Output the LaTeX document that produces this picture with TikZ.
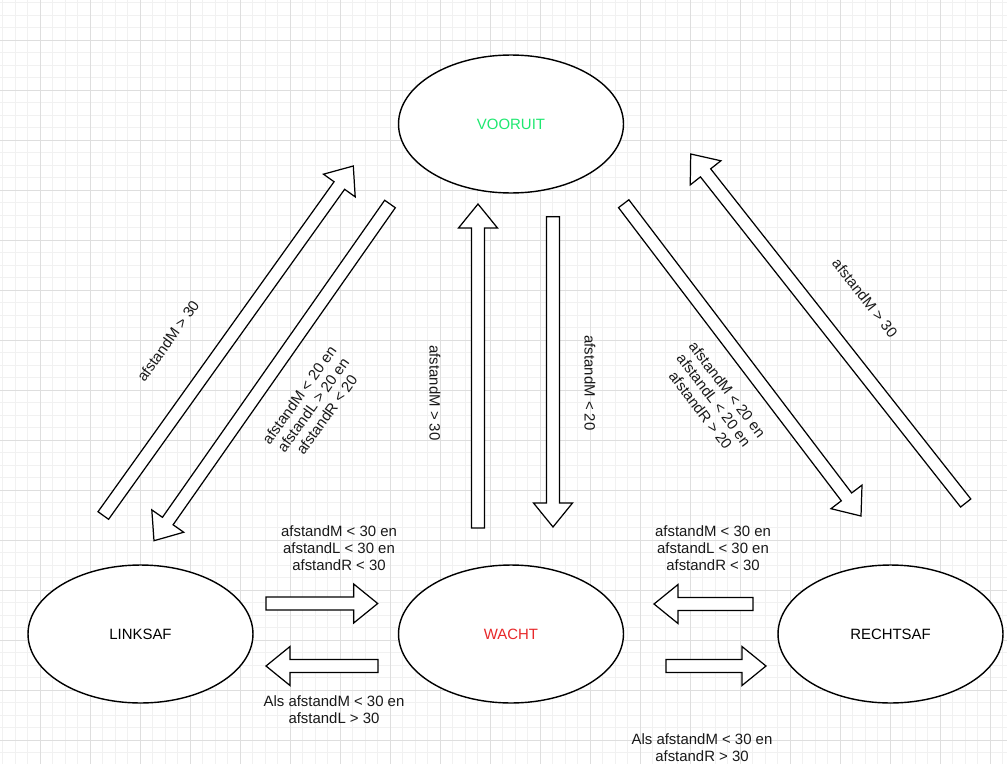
\documentclass[tikz,border=0pt]{standalone}
\usepackage{fontspec}
\setmainfont{Liberation Sans}
\usepackage{tikz}
\usetikzlibrary{calc, shapes.geometric}
\usepackage{xcolor}

\definecolor{gridmin}{HTML}{F1F1F1}
\definecolor{gridmaj}{HTML}{DEDEDE}
\definecolor{vgreen}{HTML}{1EE870}
\definecolor{wred}{HTML}{E8282A}

\tikzset{
  state/.style={ellipse, draw=black, line width=0.8pt, fill=white,
    minimum width=4.5cm, minimum height=2.76cm, inner sep=0pt,
    font=\fontsize{8.5}{9.6}\selectfont},
  blockarr/.style={draw=black, line width=0.7pt, fill=white, line join=miter},
  cond/.style={font=\fontsize{8.5}{9.6}\selectfont, align=center,
    text=black!90, inner sep=0pt},
}

% block arrow from tail #1 to tip #2 (shaft 13px, head 39px x 24px)
\newcommand{\blockarrow}[2]{%
  \coordinate (#1hb) at ($(#2)!0.48cm!(#1)$);
  \draw[blockarr]
    ($(#1)!0.13cm!90:(#2)$) -- ($(#1hb)!0.13cm!90:(#2)$) --
    ($(#1hb)!0.39cm!90:(#2)$) -- (#2) --
    ($(#1hb)!0.39cm!-90:(#2)$) -- ($(#1hb)!0.13cm!-90:(#2)$) --
    ($(#1)!0.13cm!-90:(#2)$) -- cycle;
}

\begin{document}
\begin{tikzpicture}[x=0.02cm,y=-0.02cm]

% ------------------------------------------------------------
% Canvas and background grid (1 unit = 1 px)
% ------------------------------------------------------------
\fill[white] (0,0) rectangle (1007,764);
\useasboundingbox (0,0) rectangle (1007,764);
\foreach \k in {0,...,80} {
  \draw[gridmin, line width=0.5pt] ({2.5+12.5*\k},0) -- ++(0,764);
}
\foreach \k in {0,...,61} {
  \draw[gridmin, line width=0.5pt] (0,{2.5+12.5*\k}) -- ++(1007,0);
}
\foreach \k in {0,...,19} {
  \draw[gridmaj, line width=0.5pt] ({40+50*\k},0) -- ++(0,764);
}
\foreach \k in {0,...,14} {
  \draw[gridmaj, line width=0.5pt] (0,{40+50*\k}) -- ++(1007,0);
}

% ------------------------------------------------------------
% Block arrows: tail and tip coordinates
% ------------------------------------------------------------
\coordinate (lv0) at (103.3,515.5);  \coordinate (lv1) at (353.3,166);
\coordinate (vl0) at (390,204);      \coordinate (vl1) at (154,540.7);
\coordinate (wv0) at (478,528);      \coordinate (wv1) at (478,204);
\coordinate (vw0) at (553,216.7);    \coordinate (vw1) at (553,527);
\coordinate (vr0) at (623.7,203.7);  \coordinate (vr1) at (861,516);
\coordinate (rv0) at (965.7,503);    \coordinate (rv1) at (690.7,154);
\coordinate (lw0) at (266,603.5);    \coordinate (lw1) at (377.7,603.5);
\coordinate (wl0) at (378,666);      \coordinate (wl1) at (266,666);
\coordinate (rw0) at (753,604);      \coordinate (rw1) at (654,604);
\coordinate (wr0) at (666,666);      \coordinate (wr1) at (766,666);

\blockarrow{lv0}{lv1}
\blockarrow{vl0}{vl1}
\blockarrow{wv0}{wv1}
\blockarrow{vw0}{vw1}
\blockarrow{vr0}{vr1}
\blockarrow{rv0}{rv1}
\blockarrow{lw0}{lw1}
\blockarrow{wl0}{wl1}
\blockarrow{rw0}{rw1}
\blockarrow{wr0}{wr1}

% ------------------------------------------------------------
% States
% ------------------------------------------------------------
\node[state, text=vgreen] (vooruit)  at (511,124) {VOORUIT};
\node[state]              (linksaf)  at (140.5,634) {LINKSAF};
\node[state, text=wred]   (wacht)    at (511,634) {WACHT};
\node[state]              (rechtsaf) at (890.5,634) {RECHTSAF};

% ------------------------------------------------------------
% Transition conditions
% ------------------------------------------------------------
\node[cond, rotate=54.4] (clv) at (168,341) {afstandM > 30};
\node[cond, rotate=54.4] (cvl) at (313,405)
  {afstandM < 20 en\\afstandL > 20 en\\afstandR < 20};
\node[cond, rotate=-90] (cwv) at (435,393) {afstandM > 30};
\node[cond, rotate=-90] (cvw) at (590,383) {afstandM < 20};
\node[cond, rotate=-52.8] (cvr) at (714,400)
  {afstandM < 20 en\\afstandL < 20 en\\afstandR > 20};
\node[cond, rotate=-51.8] (crv) at (865,298) {afstandM > 30};

\node[cond] (clw) at (339,548)
  {afstandM < 30 en\\afstandL < 30 en\\afstandR < 30};
\node[cond] (cwl) at (334,710) {Als afstandM < 30 en\\afstandL > 30};
\node[cond] (crw) at (713,548)
  {afstandM < 30 en\\afstandL < 30 en\\afstandR < 30};
\node[cond] (cwr) at (702,748) {Als afstandM < 30 en\\afstandR > 30};

\end{tikzpicture}
\end{document}
